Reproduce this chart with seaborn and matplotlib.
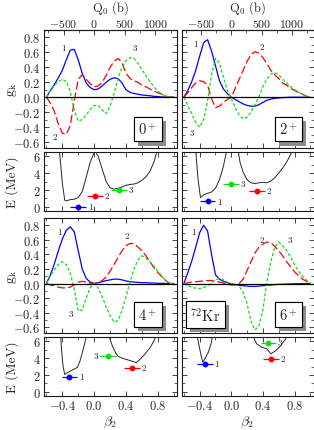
import matplotlib
matplotlib.use("Agg")
import matplotlib.pyplot as plt
import matplotlib.patheffects as pe
from matplotlib.ticker import MultipleLocator
import numpy as np
import seaborn as sns

# %% DATA
beta = [-0.60, -0.55, -0.50, -0.45, -0.40, -0.35, -0.30, -0.25, -0.20, -0.15,
        -0.10, -0.05, 0.00, 0.05, 0.10, 0.15, 0.20, 0.25, 0.30, 0.35,
        0.40, 0.45, 0.50, 0.55, 0.60, 0.65, 0.70, 0.75, 0.80, 0.85,
        0.90, 0.95, 1.00]

# 0+ collective wave functions
g0_1 = [0.00, 0.09, 0.17, 0.26, 0.36, 0.50, 0.63, 0.64, 0.50, 0.32,
        0.19, 0.13, 0.10, 0.11, 0.15, 0.20, 0.24, 0.26, 0.25, 0.19,
        0.10, 0.065, 0.05, 0.04, 0.03, 0.025, 0.02, 0.012, 0.008, 0.004,
        0.001, 0.0, 0.0]
g0_2 = [0.00, -0.08, -0.19, -0.36, -0.48, -0.50, -0.38, -0.05, 0.24, 0.30,
        0.24, 0.18, 0.14, 0.15, 0.20, 0.29, 0.40, 0.48, 0.52, 0.46,
        0.32, 0.25, 0.22, 0.20, 0.16, 0.14, 0.11, 0.08, 0.06, 0.04,
        0.015, 0.0, 0.0]
g0_3 = [0.00, 0.08, 0.16, 0.21, 0.24, 0.21, 0.08, -0.18, -0.32, -0.30,
        -0.24, -0.16, -0.11, -0.11, -0.17, -0.22, -0.12, 0.05, 0.25, 0.40,
        0.49, 0.53, 0.52, 0.45, 0.37, 0.29, 0.21, 0.14, 0.08, 0.04,
        0.015, 0.0, 0.0]

# 2+
g2_1 = [0.00, 0.09, 0.21, 0.36, 0.55, 0.73, 0.77, 0.62, 0.42, 0.22,
        0.11, 0.05, 0.00, -0.03, -0.06, -0.09, -0.11, -0.12, -0.12, -0.10,
        -0.07, -0.04, -0.025, -0.015, -0.01, -0.005, -0.003, 0.0, 0.0, 0.0,
        0.0, 0.0, 0.0]
g2_2 = [0.00, 0.06, 0.13, 0.19, 0.22, 0.21, 0.16, -0.02, -0.14, -0.12,
        -0.07, -0.03, 0.00, 0.12, 0.24, 0.36, 0.48, 0.57, 0.61, 0.59,
        0.53, 0.45, 0.36, 0.30, 0.25, 0.19, 0.16, 0.12, 0.09, 0.065,
        0.04, 0.015, 0.0]
g2_3 = [0.00, -0.11, -0.22, -0.34, -0.40, -0.30, -0.05, 0.30, 0.52, 0.46,
        0.27, 0.09, -0.02, -0.14, -0.24, -0.29, -0.27, -0.20, -0.10, 0.01,
        0.14, 0.24, 0.31, 0.33, 0.30, 0.24, 0.19, 0.14, 0.10, 0.07,
        0.04, 0.015, 0.0]

# 4+
g4_1 = [0.00, 0.12, 0.27, 0.45, 0.61, 0.73, 0.78, 0.71, 0.45, 0.20,
        0.07, 0.02, 0.00, 0.01, 0.025, 0.04, 0.05, 0.06, 0.06, 0.05,
        0.035, 0.025, 0.02, 0.015, 0.012, 0.01, 0.008, 0.006, 0.004, 0.002,
        0.001, 0.0, 0.0]
g4_2 = [0.00, -0.02, -0.03, -0.05, -0.06, -0.06, -0.05, -0.02, 0.02, 0.03,
        0.02, 0.005, 0.00, 0.01, 0.04, 0.09, 0.17, 0.26, 0.36, 0.45,
        0.52, 0.55, 0.55, 0.50, 0.45, 0.38, 0.30, 0.22, 0.15, 0.09,
        0.04, 0.0, 0.0]
g4_3 = [0.00, 0.10, 0.19, 0.26, 0.30, 0.26, 0.14, -0.08, -0.38, -0.36,
        -0.20, -0.06, 0.00, -0.06, -0.18, -0.32, -0.44, -0.53, -0.51, -0.37,
        -0.18, 0.02, 0.20, 0.32, 0.38, 0.35, 0.30, 0.24, 0.17, 0.10,
        0.04, 0.0, 0.0]

# 6+
g6_1 = [0.00, 0.15, 0.31, 0.50, 0.70, 0.80, 0.72, 0.40, 0.12, 0.06,
        0.03, 0.01, -0.005, -0.015, -0.025, -0.03, -0.035, -0.04, -0.04, -0.035,
        -0.03, -0.025, -0.02, -0.015, -0.012, -0.01, -0.008, -0.006, -0.004, -0.003,
        -0.002, -0.001, 0.0]
g6_2 = [0.00, 0.01, 0.02, 0.025, 0.03, 0.035, 0.04, 0.04, 0.03, 0.02,
        0.005, -0.01, -0.02, -0.02, 0.00, 0.06, 0.18, 0.30, 0.42, 0.50,
        0.54, 0.57, 0.56, 0.51, 0.45, 0.38, 0.30, 0.23, 0.16, 0.11,
        0.06, 0.03, 0.0]
g6_3 = [0.00, -0.03, -0.05, -0.065, -0.07, -0.055, -0.03, 0.01, 0.05, 0.07,
        0.05, 0.02, 0.0, -0.01, -0.04, -0.12, -0.28, -0.52, -0.64, -0.58,
        -0.36, 0.02, 0.30, 0.50, 0.57, 0.52, 0.45, 0.36, 0.26, 0.17,
        0.10, 0.05, 0.0]

# collective potentials (MeV)
pes0_beta = [-0.45, -0.42, -0.40, -0.37, -0.35, -0.30, -0.25, -0.20, -0.15, -0.10,
             -0.05, 0.00, 0.02, 0.05, 0.10, 0.15, 0.20, 0.25, 0.30, 0.35,
             0.40, 0.45, 0.50, 0.55, 0.60, 0.65, 0.70, 0.75, 0.78, 0.82]
pes0_E = [8.0, 5.0, 2.8, 0.8, 0.7, 0.85, 0.9, 1.1, 1.8, 3.5,
          5.3, 6.4, 6.5, 6.0, 4.5, 3.0, 2.25, 2.1, 2.2, 2.35,
          2.55, 2.65, 2.7, 2.85, 3.15, 3.55, 4.2, 5.3, 6.3, 8.0]
pes2_beta = [-0.46, -0.44, -0.42, -0.39, -0.35, -0.30, -0.25, -0.20, -0.15, -0.10,
             -0.06, -0.04, 0.00, 0.07, 0.09, 0.11, 0.15, 0.20, 0.25, 0.30,
             0.35, 0.40, 0.45, 0.50, 0.55, 0.60, 0.65, 0.70, 0.75, 0.78, 0.82]
pes2_E = [8.0, 5.5, 3.2, 1.1, 1.4, 1.6, 1.75, 2.2, 3.2, 4.8,
          6.6, 8.0, 9.0, 8.0, 6.5, 5.3, 4.1, 3.2, 2.85, 2.75,
          2.85, 2.9, 2.85, 3.05, 3.45, 4.0, 4.6, 5.3, 6.2, 7.0, 8.0]
pes4_beta = [-0.43, -0.41, -0.39, -0.37, -0.33, -0.30, -0.25, -0.21, -0.18, -0.15,
             -0.12, -0.10, -0.08, 0.05, 0.17, 0.19, 0.23, 0.27, 0.30, 0.35,
             0.40, 0.45, 0.50, 0.53, 0.58, 0.63, 0.70, 0.76, 0.80]
pes4_E = [8.0, 5.0, 3.0, 2.05, 2.3, 2.45, 2.7, 2.9, 3.6, 4.6,
          5.7, 6.5, 8.0, 9.0, 8.0, 6.5, 5.4, 4.6, 4.2, 4.0,
          3.85, 3.7, 3.55, 3.45, 3.9, 4.4, 5.2, 6.2, 8.0]
pes6_beta = [-0.45, -0.43, -0.40, -0.38, -0.36, -0.33, -0.29, -0.25, -0.22, 0.00,
             0.26, 0.28, 0.32, 0.38, 0.45, 0.50, 0.55, 0.61, 0.69, 0.72]
pes6_E = [8.0, 6.5, 5.1, 4.2, 3.5, 4.0, 4.7, 5.9, 8.0, 9.0,
          8.0, 6.5, 5.7, 5.3, 5.1, 4.5, 4.8, 5.3, 6.3, 8.0]

# levels: mean deformation and energy of states 1, 2, 3
lev0_beta = [-0.20, 0.01, 0.31]
lev0_E = [0.0, 1.3, 2.0]
lev2_beta = [-0.30, 0.33, 0.00]
lev2_E = [0.65, 1.9, 2.75]
lev4_beta = [-0.31, 0.47, 0.17]
lev4_E = [1.75, 2.8, 4.25]
lev6_beta = [-0.335, 0.50, 0.47]
lev6_E = [3.3, 3.9, 5.8]

spins = ["0$^+$", "2$^+$", "4$^+$", "6$^+$"]
state_names = ["1", "2", "3"]

# label positions of the curve numbers in the g_k panels
lab0 = [(-0.39, 0.66), (-0.49, -0.53), (0.51, 0.66)]
lab2 = [(-0.45, 0.71), (0.39, 0.67), (-0.50, -0.48)]
lab4 = [(-0.44, 0.71), (0.41, 0.66), (-0.29, -0.41)]
lab6 = [(-0.48, 0.71), (0.39, 0.60), (0.74, 0.60)]

# %% STYLE
sns.set_style("ticks")
plt.rcParams.update({
    "font.family": "serif",
    "font.serif": ["cmr10", "DejaVu Serif"],
    "mathtext.fontset": "cm",
    "axes.formatter.use_mathtext": True,
    "font.size": 9,
    "axes.linewidth": 0.8,
    "axes.edgecolor": "0.1",
    "xtick.direction": "in",
    "ytick.direction": "in",
    "xtick.major.size": 3.5,
    "ytick.major.size": 3.5,
    "xtick.minor.size": 2,
    "ytick.minor.size": 2,
    "xtick.major.width": 0.6,
    "ytick.major.width": 0.6,
    "xtick.minor.width": 0.5,
    "ytick.minor.width": 0.5,
    "xtick.major.pad": 2.5,
    "ytick.major.pad": 2.5,
    "xtick.labelsize": 9,
    "ytick.labelsize": 9,
})

colors = ["#0000ff", "#ff0000", "#11dd11"]
styles = ["-", (0, (6.5, 2.5)), (0, (2.5, 1.6))]

W, H = 314, 431
fig = plt.figure(figsize=(W / 100, H / 100), dpi=100)
cols = [(44, 133), (181.5, 132)]
rows_g = [(31, 149), (219, 334)]
rows_e = [(153, 212), (338, 397)]


def add_ax(col, row):
    x0, w = cols[col]
    top, bot = row
    return fig.add_axes([x0 / W, (H - bot) / H, w / W, (bot - top) / H])


g_sets = [(g0_1, g0_2, g0_3), (g2_1, g2_2, g2_3), (g4_1, g4_2, g4_3), (g6_1, g6_2, g6_3)]
pes_sets = [(pes0_beta, pes0_E), (pes2_beta, pes2_E), (pes4_beta, pes4_E), (pes6_beta, pes6_E)]
lev_sets = [(lev0_beta, lev0_E), (lev2_beta, lev2_E), (lev4_beta, lev4_E), (lev6_beta, lev6_E)]
lab_sets = [lab0, lab2, lab4, lab6]
# which side the level label sits on (+1 right, -1 left)
lev_side = [[1, 1, 1], [1, 1, 1], [1, 1, -1], [1, 1, 1]]

shadow = [pe.withSimplePatchShadow(offset=(3, -3), shadow_rgbFace="0.55", alpha=1.0), pe.Normal()]


def boxed(ax, x, y, s):
    t = ax.text(x, y, s, transform=ax.transAxes, ha="center", va="center", fontsize=10.5,
                bbox=dict(boxstyle="square,pad=0.3", fc="white", ec="black", lw=0.8), zorder=6)
    t.get_bbox_patch().set_path_effects(shadow)


for k in range(4):
    col = k % 2
    r = k // 2
    axg = add_ax(col, rows_g[r])
    axe = add_ax(col, rows_e[r])

    # wave functions
    for i in range(3):
        sns.lineplot(x=beta, y=g_sets[k][i], ax=axg, color=colors[i], lw=0.9,
                     linestyle=styles[i], errorbar=None)
    axg.axhline(0, color="black", lw=0.9, zorder=3)
    for i, (bx, gy) in enumerate(lab_sets[k]):
        axg.text(bx, gy, state_names[i], fontsize=6.5, ha="center", va="center")
    axg.set_ylim(-0.68, 0.9)
    axg.yaxis.set_major_locator(MultipleLocator(0.2))
    axg.yaxis.set_minor_locator(MultipleLocator(0.1))

    # potential + levels
    sns.lineplot(x=pes_sets[k][0], y=pes_sets[k][1], ax=axe, color="0.15", lw=0.7,
                 sort=False, errorbar=None)
    lb, le = lev_sets[k]
    for i in range(3):
        axe.errorbar(lb[i], le[i], xerr=0.1, fmt="o", color=colors[i], ms=3.2,
                     elinewidth=0.9, capsize=0, zorder=4)
        side = lev_side[k][i]
        axe.text(lb[i] + side * 0.15, le[i], state_names[i], fontsize=6.5,
                 ha="center", va="center")
    axe.set_ylim(-0.5, 6.5)
    axe.yaxis.set_major_locator(MultipleLocator(2))
    axe.yaxis.set_minor_locator(MultipleLocator(1))

    for ax in (axg, axe):
        ax.set_xlim(-0.63, 1.04)
        ax.xaxis.set_major_locator(MultipleLocator(0.4))
        ax.xaxis.set_minor_locator(MultipleLocator(0.2))
        ax.tick_params(which="both", top=True, right=True, labelbottom=False)
        ax.set_xlabel("")
        ax.set_ylabel("")
        if col == 1:
            ax.tick_params(labelleft=False)

    if col == 0:
        axg.set_ylabel("g$_\\mathrm{k}$", fontsize=10)
        axg.yaxis.set_label_coords(-0.185, 0.5)
        axe.set_ylabel("E (MeV)", fontsize=9.5)
        axe.yaxis.set_label_coords(-0.185, 0.5)

    if r == 0:
        axg.tick_params(which="both", top=False)
        sec = axg.secondary_xaxis("top", functions=(lambda b: b * 1300, lambda q: q / 1300))
        sec.set_xticks([-500, 0, 500, 1000])
        sec.xaxis.set_minor_locator(MultipleLocator(250))
        sec.tick_params(which="both", direction="in", pad=1, labelsize=8.5)
        # the secondary axis has no height, so the label goes on the parent axes
        axg.text(0.5, 1.118, "Q$_0$ (b)", transform=axg.transAxes, fontsize=9,
                 ha="center", va="bottom")
    else:
        axe.tick_params(labelbottom=True)
        axe.set_xlabel("$\\beta_2$", fontsize=10, labelpad=1)

    boxed(axg, 0.78 if col == 0 else 0.81, 0.16, spins[k])
    if k == 3:
        boxed(axg, 0.18, 0.16, "$^{72}$Kr")

fig.savefig("out.png", dpi=100)
